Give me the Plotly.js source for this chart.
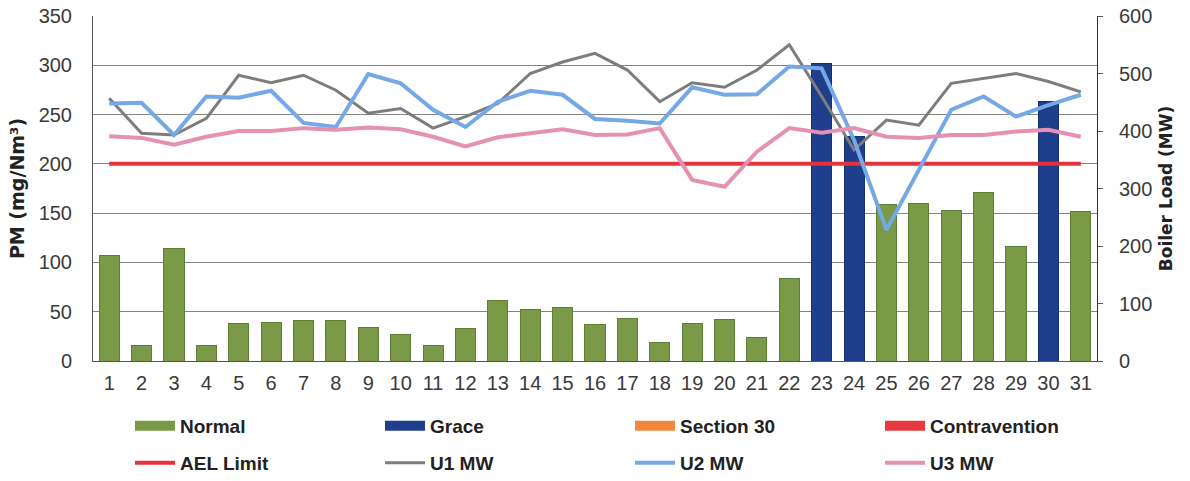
<!DOCTYPE html>
<html><head><meta charset="utf-8">
<script src="https://cdn.plot.ly/plotly-3.0.1.min.js"></script>
<style>html,body{margin:0;padding:0;background:#fff}#chart{width:1190px;height:481px}</style>
</head><body><div id="chart"></div>
<script>
const days = Array.from({length:31}, (_, i) => String(i + 1));
const normalPM = [107,16,114,16,38,39,41,41,34,27,16,33,61,52,54,37,43,19,38,42,24,84,null,null,159,160,153,171,116,null,152];
const gracePM = [null,null,null,null,null,null,null,null,null,null,null,null,null,null,null,null,null,null,null,null,null,null,302,228,null,null,null,null,null,263,null];
const section30PM = days.map(() => null);
const contraventionPM = days.map(() => null);
const aelLimit = days.map(() => 200);
const u1MW = [457,396,393,422,497,484,497,471,431,439,405,425,448,500,520,535,506,451,484,476,506,550,460,367,419,410,483,492,500,486,468];
const u2MW = [448,449,393,460,458,470,414,407,499,483,437,407,451,470,463,421,418,413,476,463,464,512,509,384,228,332,437,460,425,445,463];
const u3MW = [391,388,376,390,400,400,405,402,406,403,390,373,389,396,403,393,394,405,315,303,364,405,397,405,390,388,393,393,399,402,390];

const barNames = ['Normal','Grace','Section 30','Contravention'];
const barColors = ['#7A9A48','#1F3F8C','#F0873E','#E63A40'];
const barEdges = ['#5F7E35','#17306E','#D06A25','#C02A30'];
const barValues = [normalPM, gracePM, section30PM, contraventionPM];

const FONT = '"Liberation Sans", Arial, sans-serif';
const TFONT = '"DejaVu Sans", "Liberation Sans", Arial, sans-serif';

const traces = [];
barNames.forEach((n, i) => {
  traces.push({type:'bar', name:n, x:days, y:barValues[i], width:0.62,
    marker:{color:barColors[i], line:{color:barEdges[i], width:1}}, showlegend:false});
});
// legend proxies for the bar series (wide rectangle swatches like the original)
barNames.forEach((n, i) => {
  traces.push({type:'scatter', mode:'lines', name:n, x:[null], y:[null],
    line:{color:barColors[i], width:14}, legend:'legend', hoverinfo:'skip'});
});
traces.push(
  {type:'scatter', mode:'lines', name:'AEL Limit', x:days, y:aelLimit, line:{color:'#E5323E', width:4}, legend:'legend2'},
  {type:'scatter', mode:'lines', name:'U1 MW', x:days, y:u1MW, yaxis:'y2', line:{color:'#7D7D7D', width:3}, legend:'legend2'},
  {type:'scatter', mode:'lines', name:'U2 MW', x:days, y:u2MW, yaxis:'y2', line:{color:'#74A8E6', width:4}, legend:'legend2'},
  {type:'scatter', mode:'lines', name:'U3 MW', x:days, y:u3MW, yaxis:'y2', line:{color:'#E690B2', width:4}, legend:'legend2'}
);

const legendCommon = {orientation:'h', xref:'container', yref:'container', xanchor:'left', yanchor:'middle',
  entrywidth:195, entrywidthmode:'pixels', itemwidth:40, font:{family:FONT, size:19, color:'#222', weight:'bold'},
  bgcolor:'rgba(0,0,0,0)', traceorder:'normal', itemclick:false};

const layout = {
  width:1190, height:481,
  margin:{l:93, r:93, t:16, b:120},
  paper_bgcolor:'#fff', plot_bgcolor:'#fff',
  barmode:'stack',
  showlegend:true,
  xaxis:{type:'category', showline:true, linecolor:'#555', linewidth:1, ticks:'', showgrid:false,
    ticklabelstandoff:4, tickfont:{family:FONT, size:20, color:'#3a3a3a'}},
  yaxis:{range:[0,350], dtick:50, showgrid:true, gridcolor:'#858585', gridwidth:1.2, showline:true, linecolor:'#555', linewidth:1,
    zeroline:false, ticks:'', ticklabelstandoff:16, tickfont:{family:FONT, size:20, color:'#3a3a3a'},
    title:{text:'<b>PM (mg/Nm³)</b>', font:{family:TFONT, size:19, color:'#222'}, standoff:8}},
  yaxis2:{range:[0,600], dtick:100, overlaying:'y', side:'right', showgrid:false, showline:true, linecolor:'#333', linewidth:1,
    zeroline:false, ticks:'outside', ticklen:5, tickcolor:'#555', ticklabelstandoff:12, tickfont:{family:FONT, size:20, color:'#3a3a3a'},
    title:{text:'<b>Boiler Load (MW)</b>', font:{family:TFONT, size:17, color:'#222'}, standoff:8}},
  legend:Object.assign({}, legendCommon, {x:130/1190, y:(481-426)/481}),
  legend2:Object.assign({}, legendCommon, {x:130/1190, y:(481-463)/481})
};

Plotly.newPlot('chart', traces, layout, {displayModeBar:false, staticPlot:true});
</script>
</body></html>
